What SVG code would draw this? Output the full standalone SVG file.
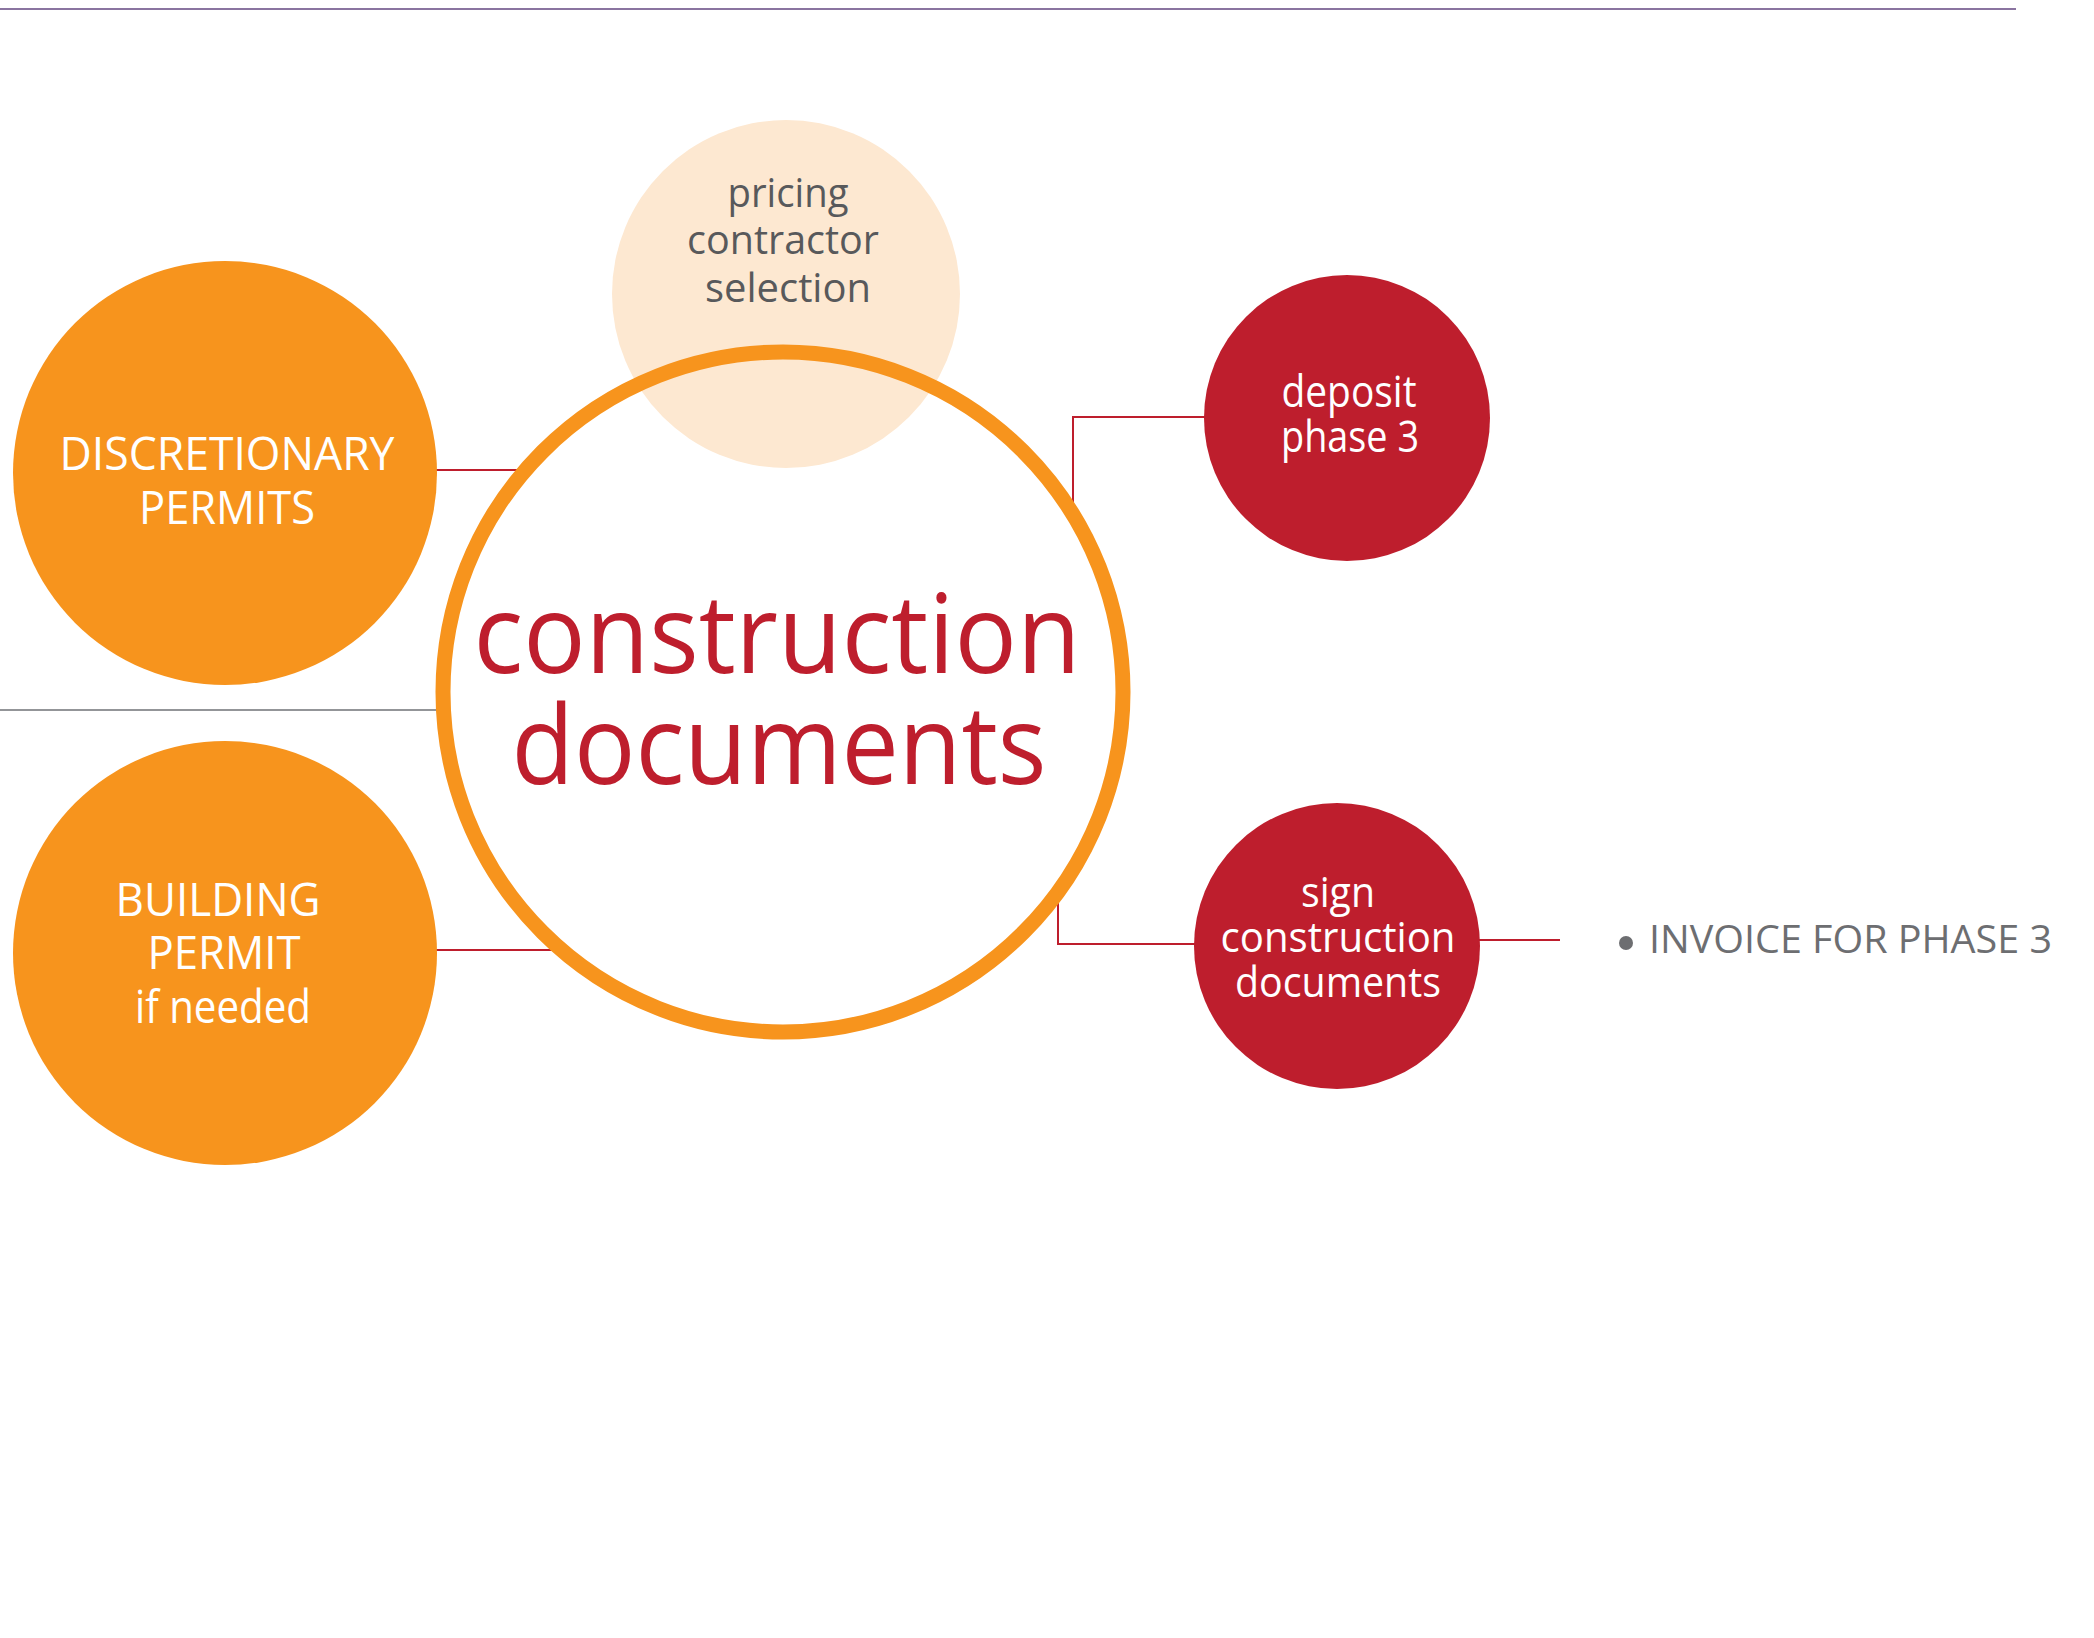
<svg xmlns="http://www.w3.org/2000/svg" width="2094" height="1638" viewBox="0 0 2094 1638">
<style>
  .t { font-family: "Open Sans", "Liberation Sans", sans-serif; text-anchor: middle; }
  .w { fill: #ffffff; }
  .g { fill: #58595b; }
  .red { fill: #be1e2d; }
  .orange { fill: #f7941d; }
  .dark { fill: #be1e2d; }
  .conn { stroke: #be1e2d; stroke-width: 2; fill: none; }
</style>
<rect width="2094" height="1638" fill="#ffffff"/>
<line x1="0" y1="9" x2="2016" y2="9" stroke="#8a74a0" stroke-width="2"/>

<g id="pricing">
  <circle cx="786" cy="294" r="174" fill="#fde8d1"/>
  <text class="t g" font-size="40" x="788" y="207" textLength="121" lengthAdjust="spacingAndGlyphs">pricing</text>
  <text class="t g" font-size="40" x="783" y="254" textLength="192" lengthAdjust="spacingAndGlyphs">contractor</text>
  <text class="t g" font-size="40" x="788" y="302" textLength="166" lengthAdjust="spacingAndGlyphs">selection</text>
</g>

<g id="connectors">
  <line x1="0" y1="710" x2="437" y2="710" stroke="#939598" stroke-width="2"/>
  <line class="conn" x1="436" y1="470" x2="517" y2="470"/>
  <line class="conn" x1="436" y1="950" x2="552" y2="950"/>
  <polyline class="conn" points="1073,505 1073,417 1205,417"/>
  <polyline class="conn" points="1058,902 1058,944 1195,944"/>
  <line class="conn" x1="1478" y1="940" x2="1560" y2="940"/>
</g>

<g id="main">
  <circle cx="783" cy="692" r="340" fill="none" stroke="#f7941d" stroke-width="15"/>
  <text class="t red" font-size="110" x="777" y="673" textLength="607" lengthAdjust="spacingAndGlyphs">construction</text>
  <text class="t red" font-size="110" x="779" y="784" textLength="535" lengthAdjust="spacingAndGlyphs">documents</text>
</g>

<g id="discretionary">
  <circle cx="225" cy="473" r="212" class="orange"/>
  <text class="t w" font-size="46" x="227" y="470" textLength="335" lengthAdjust="spacingAndGlyphs">DISCRETIONARY</text>
  <text class="t w" font-size="46" x="227" y="524" textLength="176" lengthAdjust="spacingAndGlyphs">PERMITS</text>
</g>

<g id="building">
  <circle cx="225" cy="953" r="212" class="orange"/>
  <text class="t w" font-size="46" x="218" y="916" textLength="205" lengthAdjust="spacingAndGlyphs">BUILDING</text>
  <text class="t w" font-size="46" x="224" y="969" textLength="153" lengthAdjust="spacingAndGlyphs">PERMIT</text>
  <text class="t w" font-size="46" x="223" y="1023" textLength="176" lengthAdjust="spacingAndGlyphs">if needed</text>
</g>

<g id="deposit">
  <circle cx="1347" cy="418" r="143" class="dark"/>
  <text class="t w" font-size="43" x="1349" y="407" textLength="135" lengthAdjust="spacingAndGlyphs">deposit</text>
  <text class="t w" font-size="43" x="1350" y="452" textLength="138" lengthAdjust="spacingAndGlyphs">phase 3</text>
</g>

<g id="sign">
  <circle cx="1337" cy="946" r="143" class="dark"/>
  <text class="t w" font-size="42" x="1338" y="907" textLength="74" lengthAdjust="spacingAndGlyphs">sign</text>
  <text class="t w" font-size="42" x="1338" y="952" textLength="235" lengthAdjust="spacingAndGlyphs">construction</text>
  <text class="t w" font-size="42" x="1338" y="997" textLength="206" lengthAdjust="spacingAndGlyphs">documents</text>
</g>

<g id="invoice">
  <circle cx="1626" cy="943" r="7" fill="#6d6e71"/>
  <text font-family="Open Sans, Liberation Sans, sans-serif" font-size="38" fill="#6d6e71" x="1649" y="953" textLength="403" lengthAdjust="spacingAndGlyphs">INVOICE FOR PHASE 3</text>
</g>
</svg>
